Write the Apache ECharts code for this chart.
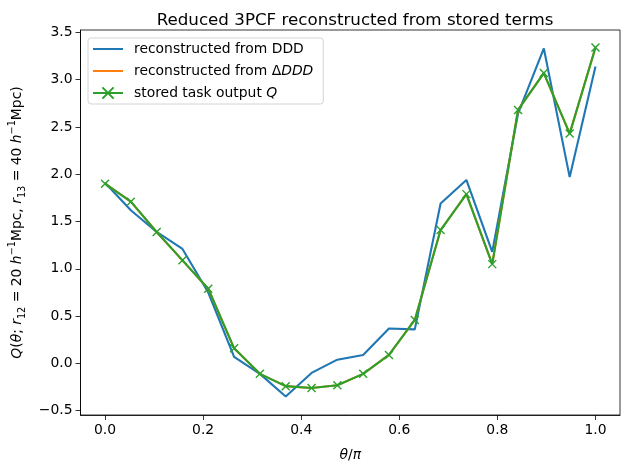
<!DOCTYPE html>
<html>
<head>
<meta charset="utf-8">
<script src="https://cdn.jsdelivr.net/npm/echarts@6.0.0/dist/echarts.min.js"></script>
<style>
  html, body { margin: 0; padding: 0; background: #fff; }
  #main { width: 630px; height: 470px; }
</style>
</head>
<body>
<div id="main"></div>
<script>
// theta / pi sample points
var thetaOverPi = [0, 0.0526, 0.1053, 0.1579, 0.2105, 0.2632, 0.3158, 0.3684, 0.4211, 0.4737,
                   0.5263, 0.5789, 0.6316, 0.6842, 0.7368, 0.7895, 0.8421, 0.8947, 0.9474, 1.0];
// reconstructed from DDD
var qFromDDD = [1.91, 1.62, 1.39, 1.21, 0.75, 0.07, -0.11, -0.35, -0.10, 0.04,
                0.09, 0.37, 0.36, 1.69, 1.94, 1.18, 2.64, 3.33, 1.97, 3.14];
// reconstructed from delta DDD
var qFromDeltaDDD = [1.90, 1.71, 1.39, 1.09, 0.79, 0.16, -0.11, -0.24, -0.26, -0.23,
                     -0.11, 0.09, 0.46, 1.41, 1.79, 1.05, 2.68, 3.07, 2.43, 3.34];
// stored task output Q
var qStored = [1.90, 1.71, 1.39, 1.09, 0.79, 0.16, -0.11, -0.24, -0.26, -0.23,
               -0.11, 0.09, 0.46, 1.41, 1.79, 1.05, 2.68, 3.07, 2.43, 3.34];
var xTicks = [0, 0.2, 0.4, 0.6, 0.8, 1.0];
var yTicks = [-0.5, 0, 0.5, 1.0, 1.5, 2.0, 2.5, 3.0, 3.5];

var FONT = 'DejaVu Sans';
var crossSymbol = 'path://M0,0L10,10M0,10L10,0';
var lineIcon = 'path://M0,0H30V2H0Z';

function pairs(ys) {
  return ys.map(function (y, i) { return [thetaOverPi[i], y]; });
}
function tickFmt(v) {
  return v.toFixed(1).replace('-', '\u2212');
}

var richText = {
  i: { fontFamily: FONT, fontSize: 13.9, fontStyle: 'italic', color: '#000' },
  sub: { fontFamily: FONT, fontSize: 9.7, color: '#000', verticalAlign: 'bottom', lineHeight: 20 },
  sup: { fontFamily: FONT, fontSize: 9.7, color: '#000', verticalAlign: 'top', lineHeight: 20 }
};

var legendNames = {
  'ddd': 'reconstructed from DDD',
  'dddd': 'reconstructed from \u0394{i|DDD}',
  'q': 'stored task output {i|Q}'
};

var chart = echarts.init(document.getElementById('main'));
var option = {
  animation: false,
  backgroundColor: '#fff',
  textStyle: { fontFamily: FONT },
  title: {
    text: 'Reduced 3PCF reconstructed from stored terms',
    left: 350,
    textAlign: 'center',
    top: 7,
    textStyle: { fontFamily: FONT, fontSize: 16.7, fontWeight: 'normal', color: '#000' }
  },
  grid: {
    left: 80.5, right: 10, top: 30, bottom: 55,
    show: true, borderColor: '#000', borderWidth: 0.8,
    outerBoundsMode: 'none'
  },
  legend: {
    orient: 'vertical',
    left: 88, top: 38,
    itemWidth: 30, itemHeight: 14, itemGap: 8,
    padding: [4, 10, 4, 4],
    borderColor: '#d5d5d5', borderWidth: 1, borderRadius: 3,
    backgroundColor: 'rgba(255,255,255,0.8)',
    data: [
      { name: 'ddd', icon: lineIcon },
      { name: 'dddd', icon: lineIcon },
      { name: 'q' }
    ],
    formatter: function (n) { return legendNames[n]; },
    textStyle: {
      fontFamily: FONT, fontSize: 13.9, color: '#000', padding: [0, 0, 0, 6],
      rich: { i: richText.i }
    }
  },
  xAxis: {
    type: 'value', min: -0.05, max: 1.05,
    name: '{i|\u03b8}/{i|\u03c0}',
    nameLocation: 'middle', nameGap: 33,
    nameTextStyle: { fontFamily: FONT, fontSize: 13.9, color: '#000', rich: { i: richText.i } },
    axisLine: { onZero: false, lineStyle: { color: '#000', width: 0.8 } },
    axisTick: { inside: false, customValues: xTicks, length: 5, lineStyle: { color: '#000', width: 0.8 } },
    axisLabel: { customValues: xTicks, formatter: tickFmt, fontFamily: FONT, fontSize: 13.9, color: '#000', margin: 8 },
    splitLine: { show: false }
  },
  yAxis: {
    type: 'value', min: -0.545, max: 3.525,
    name: '{i|Q}({i|\u03b8}; {i|r}{sub|12} = 20 {i|h}{sup|\u22121}Mpc, {i|r}{sub|13} = 40 {i|h}{sup|\u22121}Mpc)',
    nameLocation: 'middle', nameGap: 50, nameRotate: 90,
    nameTextStyle: { fontFamily: FONT, fontSize: 13.9, color: '#000', lineHeight: 20, rich: richText },
    axisLine: { onZero: false, lineStyle: { color: '#000', width: 0.8 } },
    axisTick: { inside: false, customValues: yTicks, length: 5, lineStyle: { color: '#000', width: 0.8 } },
    axisLabel: { customValues: yTicks, formatter: tickFmt, fontFamily: FONT, fontSize: 13.9, color: '#000', margin: 8 },
    splitLine: { show: false }
  },
  series: [
    {
      name: 'ddd', type: 'line', data: pairs(qFromDDD),
      symbol: 'none', color: '#1f77b4',
      lineStyle: { color: '#1f77b4', width: 2.1 }
    },
    {
      name: 'dddd', type: 'line', data: pairs(qFromDeltaDDD),
      symbol: 'none', color: '#ff7f0e',
      lineStyle: { color: '#ff7f0e', width: 2.1 }
    },
    {
      name: 'q', type: 'line', data: pairs(qStored),
      symbol: crossSymbol, symbolSize: 8, color: '#2ca02c',
      itemStyle: { color: '#2ca02c', borderColor: '#2ca02c', borderWidth: 1.4 },
      lineStyle: { color: '#2ca02c', width: 2.1 }
    }
  ]
};
chart.setOption(option);
</script>
</body>
</html>
